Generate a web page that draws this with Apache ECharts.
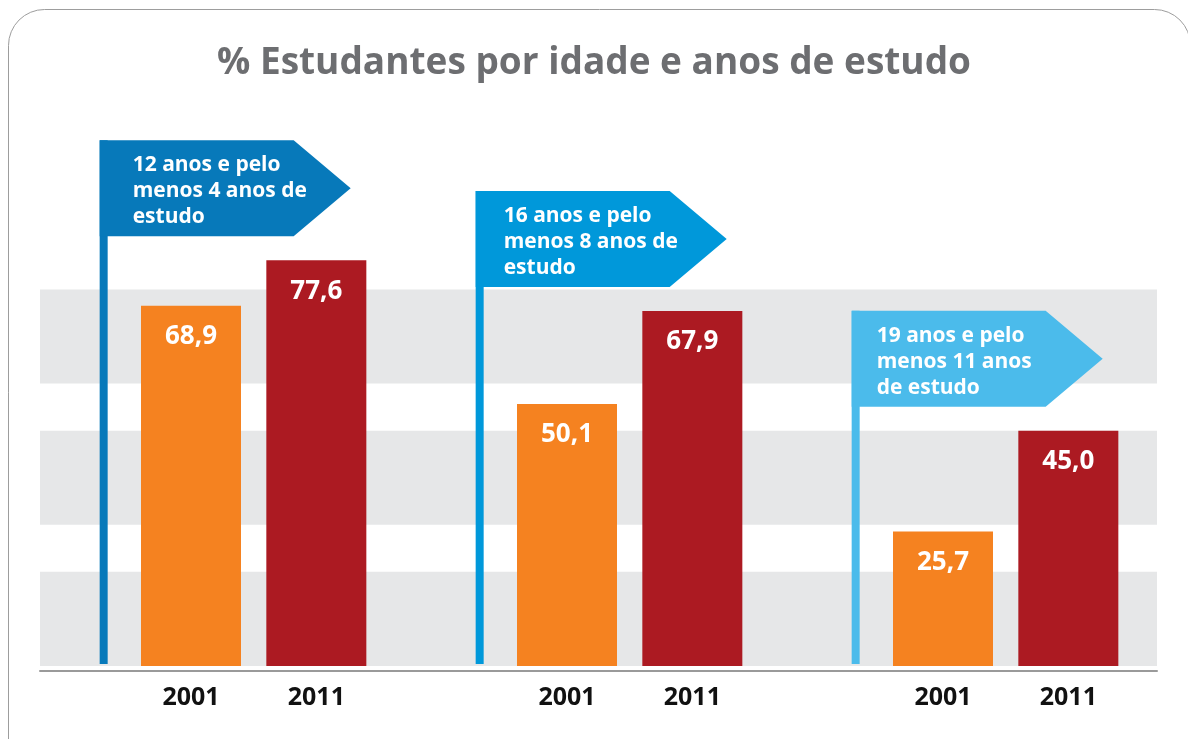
<!DOCTYPE html>
<html>
<head>
<meta charset="utf-8">
<title>% Estudantes por idade e anos de estudo</title>
<script src="https://cdn.jsdelivr.net/npm/echarts@6/dist/echarts.min.js"></script>
<style>
  html, body { margin: 0; padding: 0; background: #fff; }
  #chart { width: 1188px; height: 739px; }
</style>
</head>
<body>
<div id="chart"></div>
<script>
// dados
var grupos = ['12 anos e pelo\nmenos 4 anos de\nestudo', '16 anos e pelo\nmenos 8 anos de\nestudo', '19 anos e pelo\nmenos 11 anos\nde estudo'];
var anos = ['2001', '2011'];
var valores2001 = [68.9, 50.1, 25.7];
var valores2011 = [77.6, 67.9, 45.0];
var faixas = [[0, 18], [27, 45], [54, 72]];

var coresBandeira = ['#0779BA', '#0098DA', '#4BBBEB'];
var recuoTexto = [33, 28, 25];
var fonte = '"Open Sans", "Noto Sans", sans-serif';

// cada grupo ocupa 3 posicoes no eixo x: bandeira, 2001, 2011
var slots = [];
var dados2001 = [];
var dados2011 = [];
var dadosBandeira = [];
grupos.forEach(function (g, i) {
  slots.push('', anos[0], anos[1]);
  dados2001.push('-', valores2001[i], '-');
  dados2011.push('-', '-', valores2011[i]);
  dadosBandeira.push([i * 3, valores2011[i], i]);
});

function virgula(p) {
  return Number(p.value).toFixed(1).replace('.', ',');
}

var rotulo = {
  show: true,
  position: 'insideTop',
  distance: 18,
  formatter: virgula,
  color: '#fff',
  fontSize: 26,
  fontWeight: 'bold',
  fontFamily: fonte
};

function desenhaBandeira(params, api) {
  var i = api.value(2);
  var base = api.coord([api.value(0), 0]);
  var topo = api.coord([api.value(0), api.value(1)]);
  var x = base[0] + 34;
  var baixo = topo[1] - 24;
  var cima = baixo - 96;
  var cor = coresBandeira[i];
  return {
    type: 'group',
    children: [
      { type: 'rect', shape: { x: x, y: cima, width: 8, height: base[1] - 2 - cima }, style: { fill: cor } },
      { type: 'polygon', shape: { points: [[x, cima], [x + 194, cima], [x + 251, (cima + baixo) / 2], [x + 194, baixo], [x, baixo]] }, style: { fill: cor } },
      { type: 'text', style: {
          text: grupos[i], x: x + recuoTexto[i], y: cima + 51, verticalAlign: 'middle', align: 'left',
          fill: '#fff', fontSize: 21, fontWeight: 'bold', fontFamily: fonte, lineHeight: 26 } }
    ]
  };
}

var chart = echarts.init(document.getElementById('chart'));
chart.setOption({
  animation: false,
  backgroundColor: '#fff',
  title: {
    text: '% Estudantes por idade e anos de estudo',
    left: 'center',
    top: 45,
    padding: [0, 0, 0, 18],
    textStyle: { color: '#6D6E71', fontSize: 37, fontWeight: 'bold', fontFamily: fonte }
  },
  graphic: [{
    type: 'rect',
    silent: true,
    shape: { x: 8.5, y: 9.5, width: 1182, height: 800, r: 36 },
    style: { fill: 'none', stroke: '#9d9d9d', lineWidth: 1 }
  }],
  grid: [
    { left: 40, right: 31, top: 143, bottom: 73 },
    { left: 3, right: 57, top: 143, bottom: 73 }
  ],
  xAxis: [
    { gridIndex: 0, type: 'value', min: 0, max: 1, offset: 5,
      axisLine: { show: true, onZero: false, lineStyle: { color: '#9a9a9a', width: 2 } },
      axisTick: { show: false }, axisLabel: { show: false }, splitLine: { show: false } },
    { gridIndex: 1, type: 'category', data: slots,
      axisLine: { show: false }, axisTick: { show: false }, splitLine: { show: false },
      axisLabel: { interval: 0, margin: 19, color: '#111', fontSize: 25, fontWeight: 'bold', fontFamily: fonte } }
  ],
  yAxis: [
    { gridIndex: 0, type: 'value', min: 0, max: 100, show: false },
    { gridIndex: 1, type: 'value', min: 0, max: 100, show: false }
  ],
  series: [
    {
      type: 'line', xAxisIndex: 0, yAxisIndex: 0, data: [], z: 0, silent: true,
      markArea: {
        silent: true,
        itemStyle: { color: '#E6E7E8' },
        data: faixas.map(function (f) { return [{ yAxis: f[0] }, { yAxis: f[1] }]; })
      }
    },
    {
      type: 'custom', xAxisIndex: 1, yAxisIndex: 1, z: 1, silent: true,
      data: dadosBandeira, renderItem: desenhaBandeira
    },
    {
      name: anos[0], type: 'bar', xAxisIndex: 1, yAxisIndex: 1, z: 2,
      data: dados2001, barWidth: 100, barGap: '-100%',
      itemStyle: { color: '#F58220' }, label: rotulo
    },
    {
      name: anos[1], type: 'bar', xAxisIndex: 1, yAxisIndex: 1, z: 2,
      data: dados2011, barWidth: 100, barGap: '-100%',
      itemStyle: { color: '#AC1A22' }, label: rotulo
    }
  ]
});
</script>
</body>
</html>
